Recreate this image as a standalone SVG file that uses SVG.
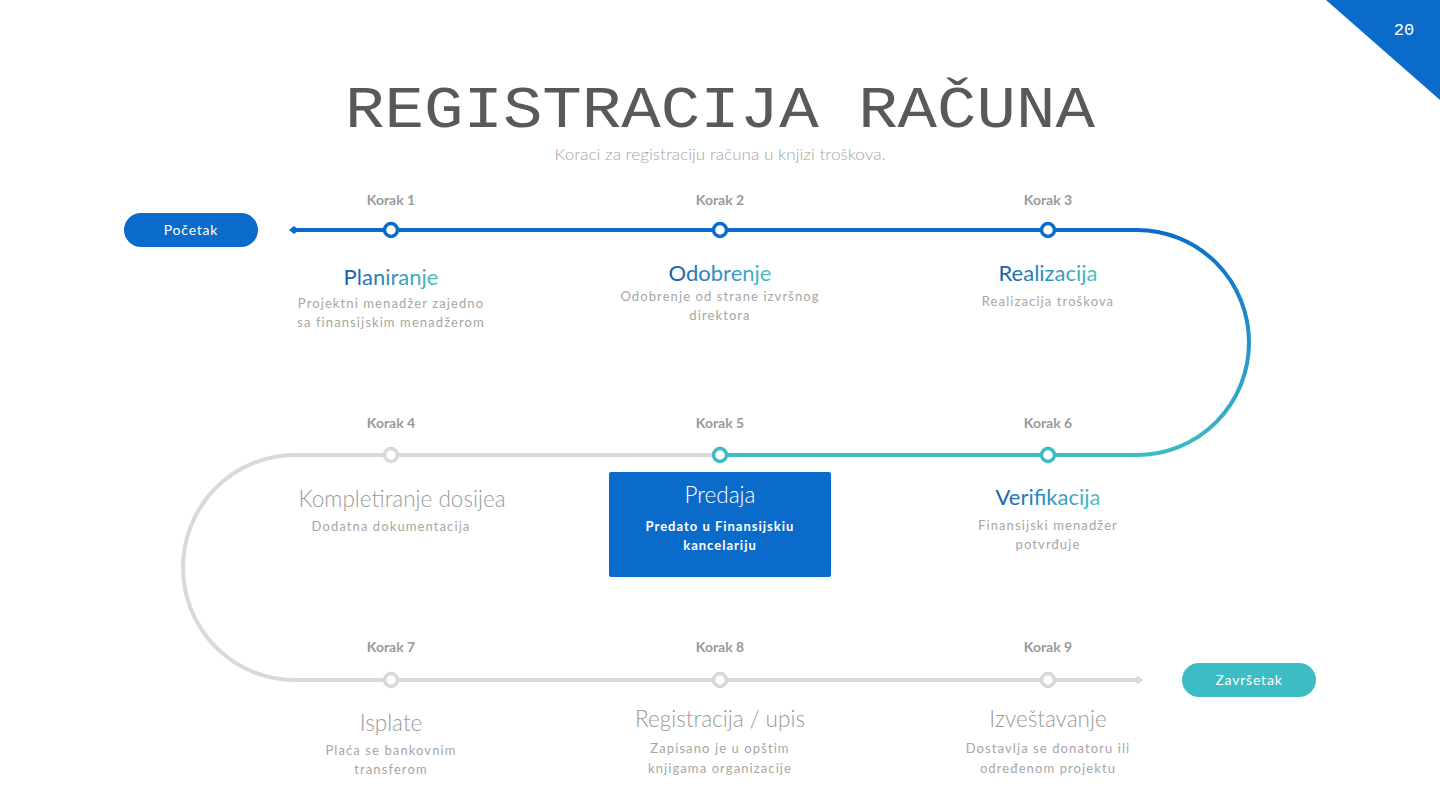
<svg xmlns="http://www.w3.org/2000/svg" width="1440" height="810" viewBox="0 0 1440 810">
<defs>
<linearGradient id="arcR" gradientUnits="userSpaceOnUse" x1="0" y1="230" x2="0" y2="455">
<stop offset="0" stop-color="#0b6bcb"/><stop offset="1" stop-color="#3dbcc4"/>
</linearGradient>
<linearGradient id="txtG" x1="0" y1="0" x2="1" y2="0">
<stop offset="0" stop-color="#1b5ea9"/><stop offset="0.45" stop-color="#2b8cc0"/><stop offset="1" stop-color="#4cc2c0"/>
</linearGradient>
<style>
.korak{font-family:Lato,"Liberation Sans",sans-serif;font-size:14px;font-weight:700;fill:#9a9a9a;text-anchor:middle}
.head{font-family:Lato,"Liberation Sans",sans-serif;font-size:22px;fill:url(#txtG);text-anchor:middle}
.light{font-family:Lato,"Liberation Sans",sans-serif;font-size:22.5px;font-weight:300;fill:#9a9a9a;text-anchor:middle}
.sub{font-family:Lato,"Liberation Sans",sans-serif;font-size:13px;fill:#a6a6a6;text-anchor:middle;letter-spacing:1.1px}
.subw{font-family:Lato,"Liberation Sans",sans-serif;font-size:13px;font-weight:700;fill:#ffffff;text-anchor:middle;letter-spacing:1px}
.pill{font-family:Lato,"Liberation Sans",sans-serif;font-size:14px;fill:#ffffff;text-anchor:middle;letter-spacing:0.8px}
.dotB{fill:#ffffff;stroke:#0b6bcb;stroke-width:3.5}
.dotT{fill:#ffffff;stroke:#3dbcc4;stroke-width:3.5}
.dotG{fill:#ffffff;stroke:#d9d9d9;stroke-width:3.5}
</style>
</defs>
<rect width="1440" height="810" fill="#ffffff"/>
<polygon points="1326,0 1440,0 1440,100" fill="#0b6bcb"/>
<text x="1404" y="35" font-family="Liberation Mono, monospace" font-size="17" fill="#ffffff" text-anchor="middle">20</text>
<text x="720" y="127" font-family="Liberation Mono, monospace" font-size="60" fill="#595959" text-anchor="middle" textLength="750" lengthAdjust="spacingAndGlyphs">REGISTRACIJA RAČUNA</text>
<text x="720" y="160" font-family="Lato,'Liberation Sans',sans-serif" font-size="15" font-weight="300" fill="#a6a6a6" text-anchor="middle" textLength="331" lengthAdjust="spacingAndGlyphs">Koraci za registraciju računa u knjizi troškova.</text>

<g id="connectors" fill="none" stroke-width="4">
<path d="M293,230 H1137" stroke="#0b6bcb"/>
<polygon points="289,230 294,226 299,230 294,234" fill="#0b6bcb" stroke="none"/>
<path d="M1137,230 A112,112.5 0 0 1 1137,455" stroke="url(#arcR)"/>
<path d="M1137,455 H720" stroke="#3dbcc4"/>
<path d="M720,455 H295 A112,112.5 0 0 0 295,680 H1138" stroke="#d9d9d9"/>
<polygon points="1133,680 1138,676 1143,680 1138,684" fill="#d9d9d9" stroke="none"/>
</g>

<g id="start">
<rect x="124" y="213" width="134" height="34" rx="17" fill="#0b6bcb"/>
<text class="pill" x="191" y="235">Početak</text>
</g>
<g id="end">
<rect x="1182" y="663" width="134" height="34" rx="17" fill="#3dbcc4"/>
<text class="pill" x="1249" y="685">Završetak</text>
</g>

<g id="step1">
<text class="korak" x="391" y="205">Korak 1</text>
<circle class="dotB" cx="391" cy="230" r="6.5"/>
<text class="head" x="391" y="285">Planiranje</text>
<text class="sub" x="391" y="308">Projektni menadžer zajedno</text>
<text class="sub" x="391" y="327">sa finansijskim menadžerom</text>
</g>
<g id="step2">
<text class="korak" x="720" y="205">Korak 2</text>
<circle class="dotB" cx="720" cy="230" r="6.5"/>
<text class="head" x="720" y="281">Odobrenje</text>
<text class="sub" x="720" y="301">Odobrenje od strane izvršnog</text>
<text class="sub" x="720" y="320">direktora</text>
</g>
<g id="step3">
<text class="korak" x="1048" y="205">Korak 3</text>
<circle class="dotB" cx="1048" cy="230" r="6.5"/>
<text class="head" x="1048" y="281">Realizacija</text>
<text class="sub" x="1048" y="306">Realizacija troškova</text>
</g>
<g id="step4">
<text class="korak" x="391" y="428">Korak 4</text>
<circle class="dotG" cx="391" cy="455" r="6.5"/>
<text class="light" x="402" y="507">Kompletiranje dosijea</text>
<text class="sub" x="391" y="531">Dodatna dokumentacija</text>
</g>
<g id="step5">
<text class="korak" x="720" y="428">Korak 5</text>
<circle class="dotT" cx="720" cy="455" r="6.5"/>
<rect x="609" y="472" width="222" height="105" rx="2" fill="#0b6bcb"/>
<text class="light" x="720" y="503" style="fill:#ffffff">Predaja</text>
<text class="subw" x="720" y="531">Predato u Finansijskiu</text>
<text class="subw" x="720" y="550">kancelariju</text>
</g>
<g id="step6">
<text class="korak" x="1048" y="428">Korak 6</text>
<circle class="dotT" cx="1048" cy="455" r="6.5"/>
<text class="head" x="1048" y="505">Verifikacija</text>
<text class="sub" x="1048" y="530">Finansijski menadžer</text>
<text class="sub" x="1048" y="549">potvrđuje</text>
</g>
<g id="step7">
<text class="korak" x="391" y="652">Korak 7</text>
<circle class="dotG" cx="391" cy="680" r="6.5"/>
<text class="light" x="391" y="731">Isplate</text>
<text class="sub" x="391" y="755">Plaća se bankovnim</text>
<text class="sub" x="391" y="774">transferom</text>
</g>
<g id="step8">
<text class="korak" x="720" y="652">Korak 8</text>
<circle class="dotG" cx="720" cy="680" r="6.5"/>
<text class="light" x="720" y="727">Registracija / upis</text>
<text class="sub" x="720" y="753">Zapisano je u opštim</text>
<text class="sub" x="720" y="773">knjigama organizacije</text>
</g>
<g id="step9">
<text class="korak" x="1048" y="652">Korak 9</text>
<circle class="dotG" cx="1048" cy="680" r="6.5"/>
<text class="light" x="1048" y="727">Izveštavanje</text>
<text class="sub" x="1048" y="753">Dostavlja se donatoru ili</text>
<text class="sub" x="1048" y="773">određenom projektu</text>
</g>
</svg>
